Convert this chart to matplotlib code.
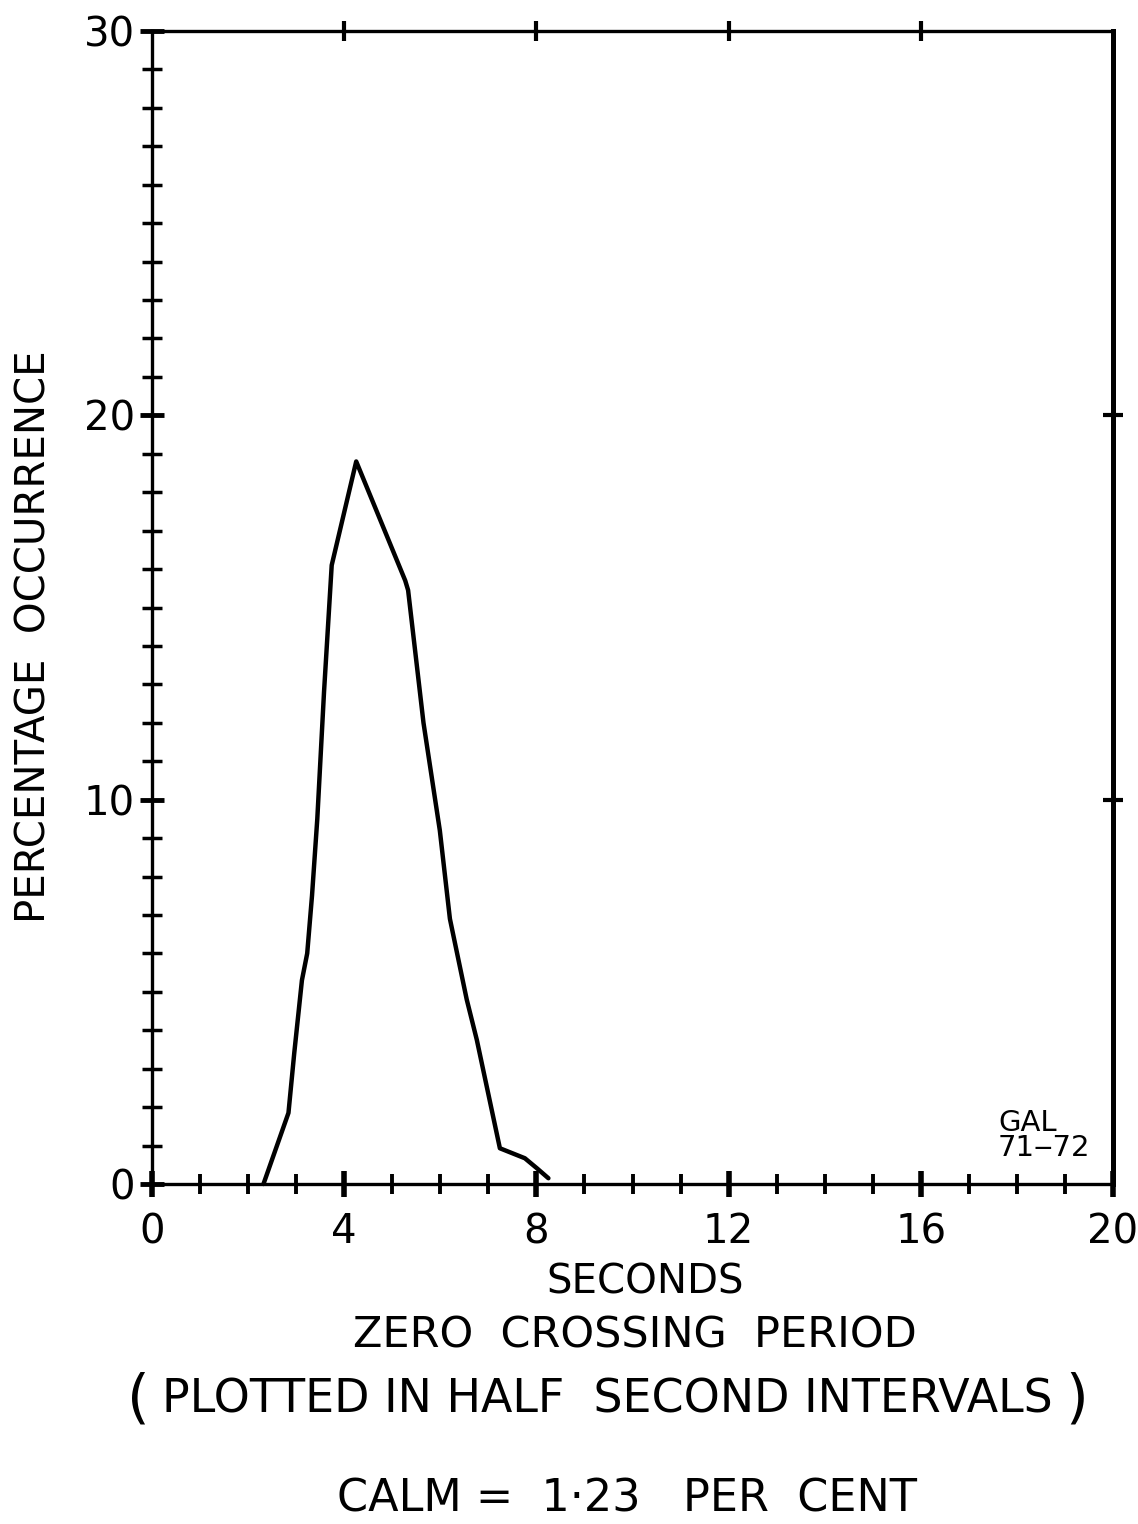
import matplotlib
matplotlib.use("Agg")
import matplotlib.pyplot as plt
from matplotlib.ticker import MultipleLocator

# ---- data ----
period_s = [2.32, 2.84, 2.96, 3.12, 3.23, 3.33, 3.44, 3.58, 3.74, 4.25,
            5.27, 5.33, 5.65, 5.99, 6.20, 6.55, 6.76, 7.24, 7.76, 8.01, 8.25]
pct_occ = [0.0, 1.85, 3.4, 5.3, 6.0, 7.5, 9.5, 12.8, 16.1, 18.8,
           15.7, 15.45, 12.0, 9.2, 6.9, 4.8, 3.75, 0.93, 0.67, 0.41, 0.15]

x_major = [0, 4, 8, 12, 16, 20]
x_major_labels = ["0", "4", "8", "12", "16", "20"]
y_major = [0, 10, 20, 30]
y_major_labels = ["0", "10", "20", "30"]
top_ticks = [4, 8, 12, 16]
right_ticks = [10, 20]

plt.rcParams['font.family'] = ['DejaVu Sans']

W, H = 1138, 1524
fig = plt.figure(figsize=(W / 100, H / 100), dpi=100)
L, R, T, B = 152, 1113, 31, 1184
ax = fig.add_axes([L / W, 1 - B / H, (R - L) / W, (B - T) / H])

ax.plot(period_s, pct_occ, color="black", lw=3.2, solid_joinstyle="round",
        solid_capstyle="round", clip_on=False, zorder=3)

ax.set_xlim(0, 20)
ax.set_ylim(0, 30)

for s in ["left", "bottom", "top"]:
    ax.spines[s].set_linewidth(2.4)
ax.spines["right"].set_linewidth(3.6)

ax.set_xticks(x_major)
ax.set_xticklabels(x_major_labels)
ax.xaxis.set_minor_locator(MultipleLocator(1))
ax.set_yticks(y_major)
ax.set_yticklabels(y_major_labels)
ax.yaxis.set_minor_locator(MultipleLocator(1))

ax.tick_params(axis="x", which="major", direction="inout", length=19, width=4.0,
               labelsize=29, pad=11, top=False)
ax.tick_params(axis="x", which="minor", direction="inout", length=14, width=2.8, top=False)
ax.tick_params(axis="y", which="major", direction="inout", length=17, width=3.5,
               labelsize=29, pad=4, right=False)
ax.tick_params(axis="y", which="minor", direction="inout", length=14, width=2.5, right=False)

sec_top = ax.secondary_xaxis("top")
sec_top.set_xticks(top_ticks)
sec_top.set_xticklabels([])
sec_top.spines["top"].set_visible(False)
sec_top.tick_params(direction="inout", length=15, width=3.0)

sec_right = ax.secondary_yaxis("right")
sec_right.set_yticks(right_ticks)
sec_right.set_yticklabels([])
sec_right.spines["right"].set_visible(False)
sec_right.tick_params(direction="inout", length=15, width=3.0)

fig.text(998 / W, 1 - 1162 / H, "GAL\n71\u201272", fontsize=21,
         ha="left", va="bottom", multialignment="left", linespacing=0.85)

fig.text(35 / W, 1 - 637 / H, "PERCENTAGE  OCCURRENCE", rotation=90,
         ha="center", va="center", fontsize=29)
fig.text(645 / W, 1 - 1282 / H, "SECONDS", ha="center", va="center", fontsize=29)
fig.text(635 / W, 1 - 1336 / H, "ZERO  CROSSING  PERIOD", ha="center", va="center",
         fontsize=31)
fig.text(607 / W, 1 - 1400 / H, "PLOTTED IN HALF  SECOND INTERVALS", ha="center",
         va="center", fontsize=33)
fig.text(138 / W, 1 - 1400 / H, "(", ha="center", va="center", fontsize=42)
fig.text(1077 / W, 1 - 1400 / H, ")", ha="center", va="center", fontsize=42)
fig.text(627 / W, 1 - 1499 / H, "CALM =  1\u00b723   PER  CENT", ha="center",
         va="center", fontsize=32)

fig.savefig("out.png", dpi=100, facecolor="white")
